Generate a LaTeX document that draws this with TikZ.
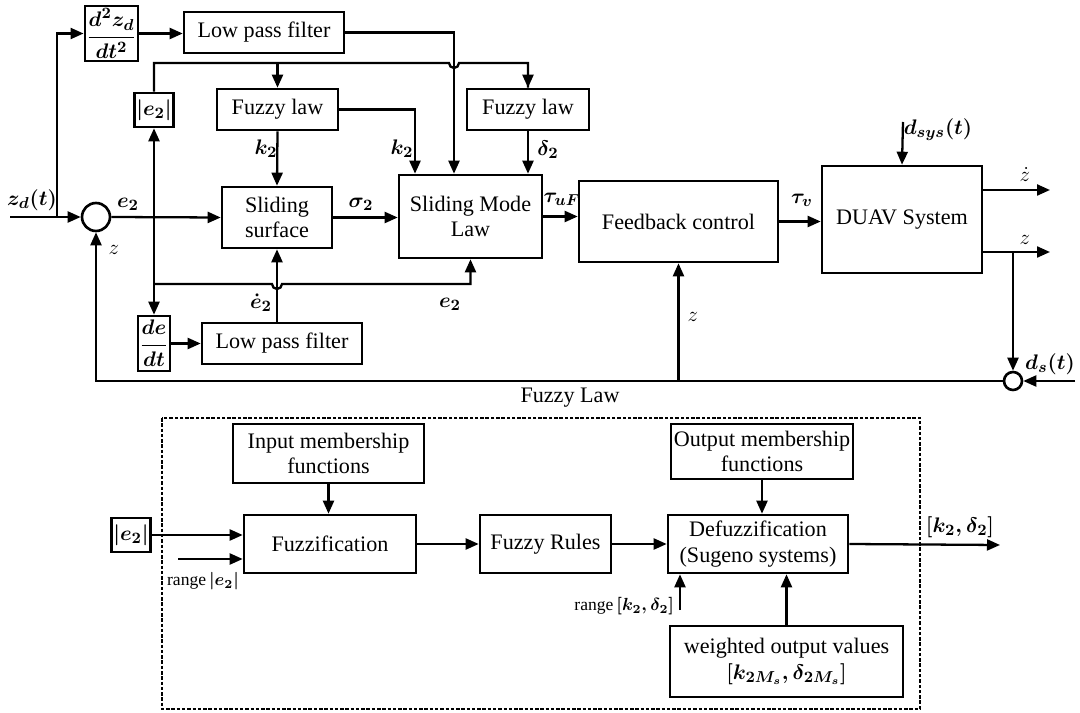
\documentclass[tikz,border=0pt]{standalone}
\usepackage{fontspec}
\setmainfont{Liberation Serif}
\usepackage{amsmath}
\usepackage{tikz}
\usetikzlibrary{arrows.meta,calc}
\newcommand{\bmth}[1]{\mbox{\boldmath$#1$}}

\begin{document}
\begin{tikzpicture}[x=0.02cm, y=-0.02cm,
  font=\fontsize{12.6}{14.5}\selectfont,
  line width=1.3pt,
  >={Triangle[length=2.6mm,width=2.2mm]},
  blk/.style={draw, line width=1.5pt, align=center, inner sep=1pt},
  sumnode/.style={draw, circle, line width=1.5pt, inner sep=0pt},
  lab/.style={inner sep=1pt},
  zlab/.style={inner sep=1pt, font=\fontsize{12}{14}\selectfont}]
\useasboundingbox (0,0) rectangle (1080,713);
\node[sumnode, minimum size=0.56cm] (sum) at (96,217) {};
\node[blk, minimum width=1.02cm, minimum height=1.1cm] (d2) at (111.5,33.5) {\bmth{\displaystyle\frac{d^2z_d}{dt^2}}};
\node[blk, minimum width=3.2cm, minimum height=0.82cm] (lpf1) at (264,32.5) {Low pass filter};
\node[blk, minimum width=0.68cm, minimum height=0.68cm] (eabs) at (154,110) {\bmth{\left|e_2\right|}};
\node[blk, minimum width=2.42cm, minimum height=0.82cm] (fl1) at (277.5,109.5) {Fuzzy law};
\node[blk, minimum width=2.44cm, minimum height=0.82cm] (fl2) at (528,109.5) {Fuzzy law};
\node[blk, minimum width=2.2cm, minimum height=1.22cm] (surf) at (277,217.5) {Sliding\\surface};
\node[blk, minimum width=2.86cm, minimum height=1.66cm] (sml) at (470.5,216.5) {Sliding Mode\\Law};
\node[blk, minimum width=3.98cm, minimum height=1.62cm] (fb) at (678.5,221.5) {Feedback control};
\node[blk, minimum width=3.2cm, minimum height=2.14cm] (duav) at (902,219.5) {DUAV System};
\node[blk, minimum width=0.64cm, minimum height=1.1cm] (dedt) at (154,343.5) {\bmth{\displaystyle\frac{de}{dt}}};
\node[blk, minimum width=3.2cm, minimum height=0.82cm] (lpf2) at (282,343.5) {Low pass filter};
\node[sumnode, minimum size=0.36cm] (sm) at (1013,381) {};
\coordinate (zin) at (10,217);
\coordinate (zbr) at (57,217);
\coordinate (etop) at (154,63);
\coordinate (ebot) at (154,284);
\coordinate (hopA) at (449,63);
\coordinate (hopB) at (272,284);
\coordinate (dsys) at (903,122);
\coordinate (zdot) at (1050,190);
\coordinate (zout) at (1050,252);
\coordinate (ybr) at (1013,252);
\coordinate (dsin) at (1075,381);

\draw[->] (zin) -- (sum.west);
\draw[->] (zbr) |- (d2.west);
\draw[->] (d2.east) -- (d2.east -| lpf1.west);
\draw[->] (lpf1.east) -| ([xshift=-0.33cm]sml.north);
\draw (eabs.north) |- (hopA) arc[start angle=180, end angle=0, radius=5] -| (fl2.north);
\draw[->] (fl2.north |- etop) -- (fl2.north);
\draw[->] (fl1.north |- etop) -- (fl1.north);
\draw[->] (fl1.east) -| ([xshift=-1.11cm]sml.north);
\draw[->] (fl1.south) -- (surf.north);
\draw[->] (fl2.south) -- (fl2.south |- sml.north);
\draw[->] (sum.east) -- (surf.west);
\draw[->] (surf.east) -- (surf.east -| sml.west);
\draw[->] (sml.east) -- (sml.east -| fb.west);
\draw[->] (fb.east) -- (fb.east -| duav.west);
\draw[<->] (eabs.south) -- (dedt.north);
\draw[->] (ebot) -- (hopB) arc[start angle=180, end angle=0, radius=5] -| (sml.south);
\draw[->] (dedt.east) -- (dedt.east -| lpf2.west);
\draw[->] (surf.south |- lpf2.north) -- (surf.south);
\draw[->] (dsys) -- (duav.north);
\draw[->] (duav.east |- zdot) -- (zdot);
\draw[->] (duav.east |- zout) -- (zout);
\draw[->] (ybr) -- (sm.north);
\draw[->] (dsin) -- (sm.east);
\draw[->] (sm.west) -| (sum.south);
\draw[->] (fb.south |- sm.west) -- (fb.south);

\node[lab] (lzd) at (32,200) {\bmth{z_d(t)}};
\node[lab] (le1) at (128,204) {\bmth{e_2}};
\node[zlab] (lz1) at (114,250) {$z$};
\node[lab] (lk1) at (266,149) {\bmth{k_2}};
\node[lab] (lk2) at (402,149) {\bmth{k_2}};
\node[lab] (ld2) at (548,150) {\bmth{\delta_2}};
\node[lab] (lsig) at (361,204) {\bmth{\sigma_2}};
\node[lab] (ltuf) at (562,199) {\bmth{\tau_{uF}}};
\node[lab] (ltv) at (802,200) {\bmth{\tau_v}};
\node[lab] (ldsys) at (938,130) {\bmth{d_{sys}(t)}};
\node[zlab] (lzdot) at (1025,175) {$\dot z$};
\node[zlab] (lz2) at (1025,240) {$z$};
\node[lab] (lds) at (1050,364) {\bmth{d_s(t)}};
\node[zlab] (lz3) at (693,317) {$z$};
\node[lab] (le2) at (450,304) {\bmth{e_2}};
\node[lab] (ledot) at (261,303) {\bmth{\dot e_2}};

\node (ftitle) at (570,398) {Fuzzy Law};
\draw[line width=0.9pt, dash pattern=on 2pt off 1pt] (162,418) rectangle (920,709);
\node[blk, minimum width=3.82cm, minimum height=1.18cm] (inmf) at (328.5,453.5) {Input membership\\functions};
\node[blk, minimum width=3.44cm, minimum height=1.16cm] (fuzz) at (330,544) {Fuzzification};
\node[blk, minimum width=0.68cm, minimum height=0.68cm] (ein) at (131,535) {\bmth{\left|e_2\right|}};
\node[blk, minimum width=2.62cm, minimum height=1.16cm] (rules) at (545.5,544) {Fuzzy Rules};
\node[blk, minimum width=3.6cm, minimum height=1.16cm] (defuzz) at (758,544) {Defuzzification\\(Sugeno systems)};
\node[blk, minimum width=3.64cm, minimum height=1.1cm] (outmf) at (762,451.5) {Output membership\\functions};
\node[blk, minimum width=4.66cm, minimum height=1.42cm] (wout) at (786.5,661.5) {weighted output values\\\bmth{\left[k_{2M_s},\delta_{2M_s}\right]}};
\coordinate (rng1) at (178,559);
\coordinate (rng2) at (680,610);
\coordinate (fout) at (1000,545);

\draw[->] (inmf.south) -- (inmf.south |- fuzz.north);
\draw[->] (ein.east) -- (ein.east -| fuzz.west);
\draw[->] (rng1) -- (rng1 -| fuzz.west);
\draw[->] (fuzz.east) -- (rules.west);
\draw[->] (rules.east) -- (defuzz.west);
\draw[->] (outmf.south) -- (outmf.south |- defuzz.north);
\draw[->] (defuzz.east) -- (fout);
\draw[->] (rng2) -- (rng2 |- defuzz.south);
\draw[->] (wout.north) -- (wout.north |- defuzz.south);

\node[inner sep=1pt] (lrng1) at (203,581) {\fontsize{10}{12}\selectfont range\,\bmth{\left|e_2\right|}};
\node[inner sep=1pt, anchor=east] (lrng2) at (677,606) {\fontsize{10}{12}\selectfont range\,\bmth{\left[k_2,\delta_2\right]}};
\node[lab] (lkd) at (960,527) {\bmth{\left[k_2,\delta_2\right]}};
\end{tikzpicture}
\end{document}
